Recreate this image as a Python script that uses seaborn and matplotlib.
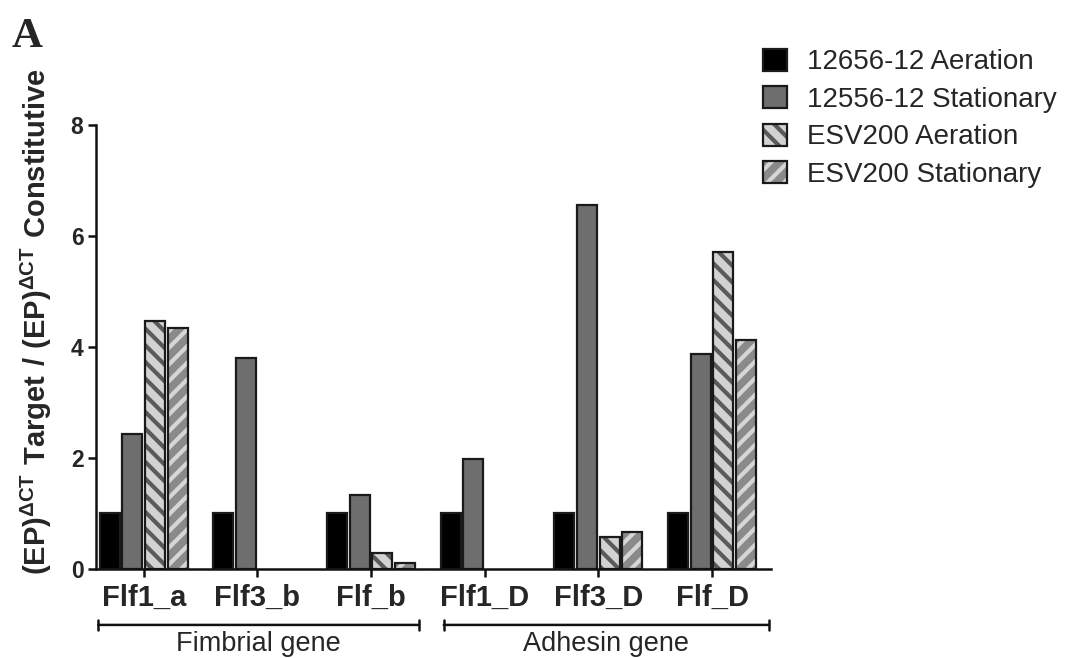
import numpy as np
import pandas as pd
import matplotlib
matplotlib.use("Agg")
import matplotlib.pyplot as plt
import matplotlib.patches as mpatches
import matplotlib.transforms as mtransforms
import seaborn as sns

# ---- data ----
genes = ["Flf1_a", "Flf3_b", "Flf_b", "Flf1_D", "Flf3_D", "Flf_D"]
conditions = ["12656-12 Aeration", "12556-12 Stationary",
              "ESV200 Aeration", "ESV200 Stationary"]
aeration_12656 = [1.0, 1.0, 1.0, 1.0, 1.0, 1.0]
stationary_12556 = [2.43, 3.81, 1.33, 1.98, 6.55, 3.87]
esv200_aeration = [4.46, np.nan, 0.28, np.nan, 0.58, 5.71]
esv200_stationary = [4.34, np.nan, 0.11, np.nan, 0.67, 4.12]
y_ticks = [0, 2, 4, 6, 8]
group_names = ["Fimbrial gene", "Adhesin gene"]

series = [aeration_12656, stationary_12556, esv200_aeration, esv200_stationary]
df = pd.DataFrame({
    "gene": np.repeat([genes], len(conditions), axis=0).ravel(),
    "condition": np.repeat(conditions, len(genes)),
    "value": np.concatenate(series),
})

# ---- style ----
sns.set_style("ticks")
plt.rcParams["font.family"] = ["Liberation Sans", "DejaVu Sans"]
plt.rcParams["mathtext.fontset"] = "custom"
plt.rcParams["mathtext.rm"] = "Liberation Sans"
plt.rcParams["mathtext.bf"] = "Liberation Sans:bold"
plt.rcParams["hatch.linewidth"] = 3.0

# (face, hatch, hatch colour)
styles = [
    ("#000000", None, None),
    ("#6e6e6e", None, None),
    ("#d2d2d2", "\\\\", "#5a5a5a"),
    ("#8a8a8a", "//", "#d6d6d6"),
]
edge = "#1a1a1a"


def set_hatch_colour(patch, colour):
    if hasattr(patch, "set_hatchcolor"):
        patch.set_hatchcolor(colour)
    else:
        patch._hatch_color = matplotlib.colors.to_rgba(colour)


fig = plt.figure(figsize=(10.70, 6.58), dpi=100)
ax = fig.add_axes([0.0897, 0.1353, 0.631, 0.6748])

sns.barplot(data=df, x="gene", y="value", hue="condition", order=genes,
            hue_order=conditions, palette=[s[0] for s in styles],
            width=0.8, gap=0.12, edgecolor=edge, linewidth=1.6,
            legend=False, ax=ax, errorbar=None, saturation=1)

for cont, (face, hatch, hcol) in zip(ax.containers, styles):
    for p in cont:
        p.set_facecolor(face)
        p.set_edgecolor(edge)
        if hatch:
            p.set_hatch(hatch)
            set_hatch_colour(p, hcol)

ax.set_ylim(0, 8)
ax.set_xlim(-0.42, 5.52)
ax.set_yticks(y_ticks)
ax.set_yticklabels([str(t) for t in y_ticks], fontsize=16.5, fontweight="bold")
ax.set_xticks(range(len(genes)))
ax.set_xticklabels(genes, fontsize=21, fontweight="bold")
ax.set_xlabel("")
ax.set_ylabel(r"$\mathbf{(EP)^{\Delta CT}\ Target\ /\ (EP)^{\Delta CT}\ Constitutive}$",
              fontsize=21)
ax.yaxis.set_label_coords(-0.062, 0.556)
sns.despine(ax=ax)
for side in ("left", "bottom"):
    ax.spines[side].set_linewidth(1.8)
    ax.spines[side].set_color("#111111")
ax.tick_params(axis="both", length=6, width=1.8, color="#111111")
ax.tick_params(axis="x", pad=5)
ax.tick_params(axis="y", pad=3)

# group brackets under the gene labels
trans = mtransforms.blended_transform_factory(ax.transData, ax.transAxes)
spans = [(-0.40, 2.42), (2.64, 5.50)]
for (x0, x1), name in zip(spans, group_names):
    ax.annotate("", xy=(x0, -0.126), xytext=(x1, -0.126), xycoords=trans,
                textcoords=trans, annotation_clip=False,
                arrowprops=dict(arrowstyle="|-|,widthA=0.35,widthB=0.35",
                                lw=1.8, color="#111111", shrinkA=0, shrinkB=0))
    ax.text((x0 + x1) / 2, -0.168, name, transform=trans, ha="center",
            va="center", fontsize=19.5, clip_on=False)

# legend
handles = []
for (face, hatch, hcol), lab in zip(styles, conditions):
    h = mpatches.Patch(facecolor=face, edgecolor=edge, linewidth=1.6,
                       hatch=hatch, label=lab)
    if hatch:
        set_hatch_colour(h, hcol)
    handles.append(h)
leg = fig.legend(handles=handles, loc="upper left",
                 bbox_to_anchor=(0.69, 0.964), frameon=False, fontsize=20,
                 handlelength=0.85, handleheight=0.85, handletextpad=0.72,
                 labelspacing=0.39)
for idx, h in enumerate(leg.legend_handles):
    if styles[idx][1]:
        set_hatch_colour(h, styles[idx][2])

fig.text(0.011, 0.972, "A", fontsize=31, fontweight="bold",
         family=["Liberation Serif", "DejaVu Serif"], va="top", ha="left")

fig.savefig("out.png", dpi=100)
